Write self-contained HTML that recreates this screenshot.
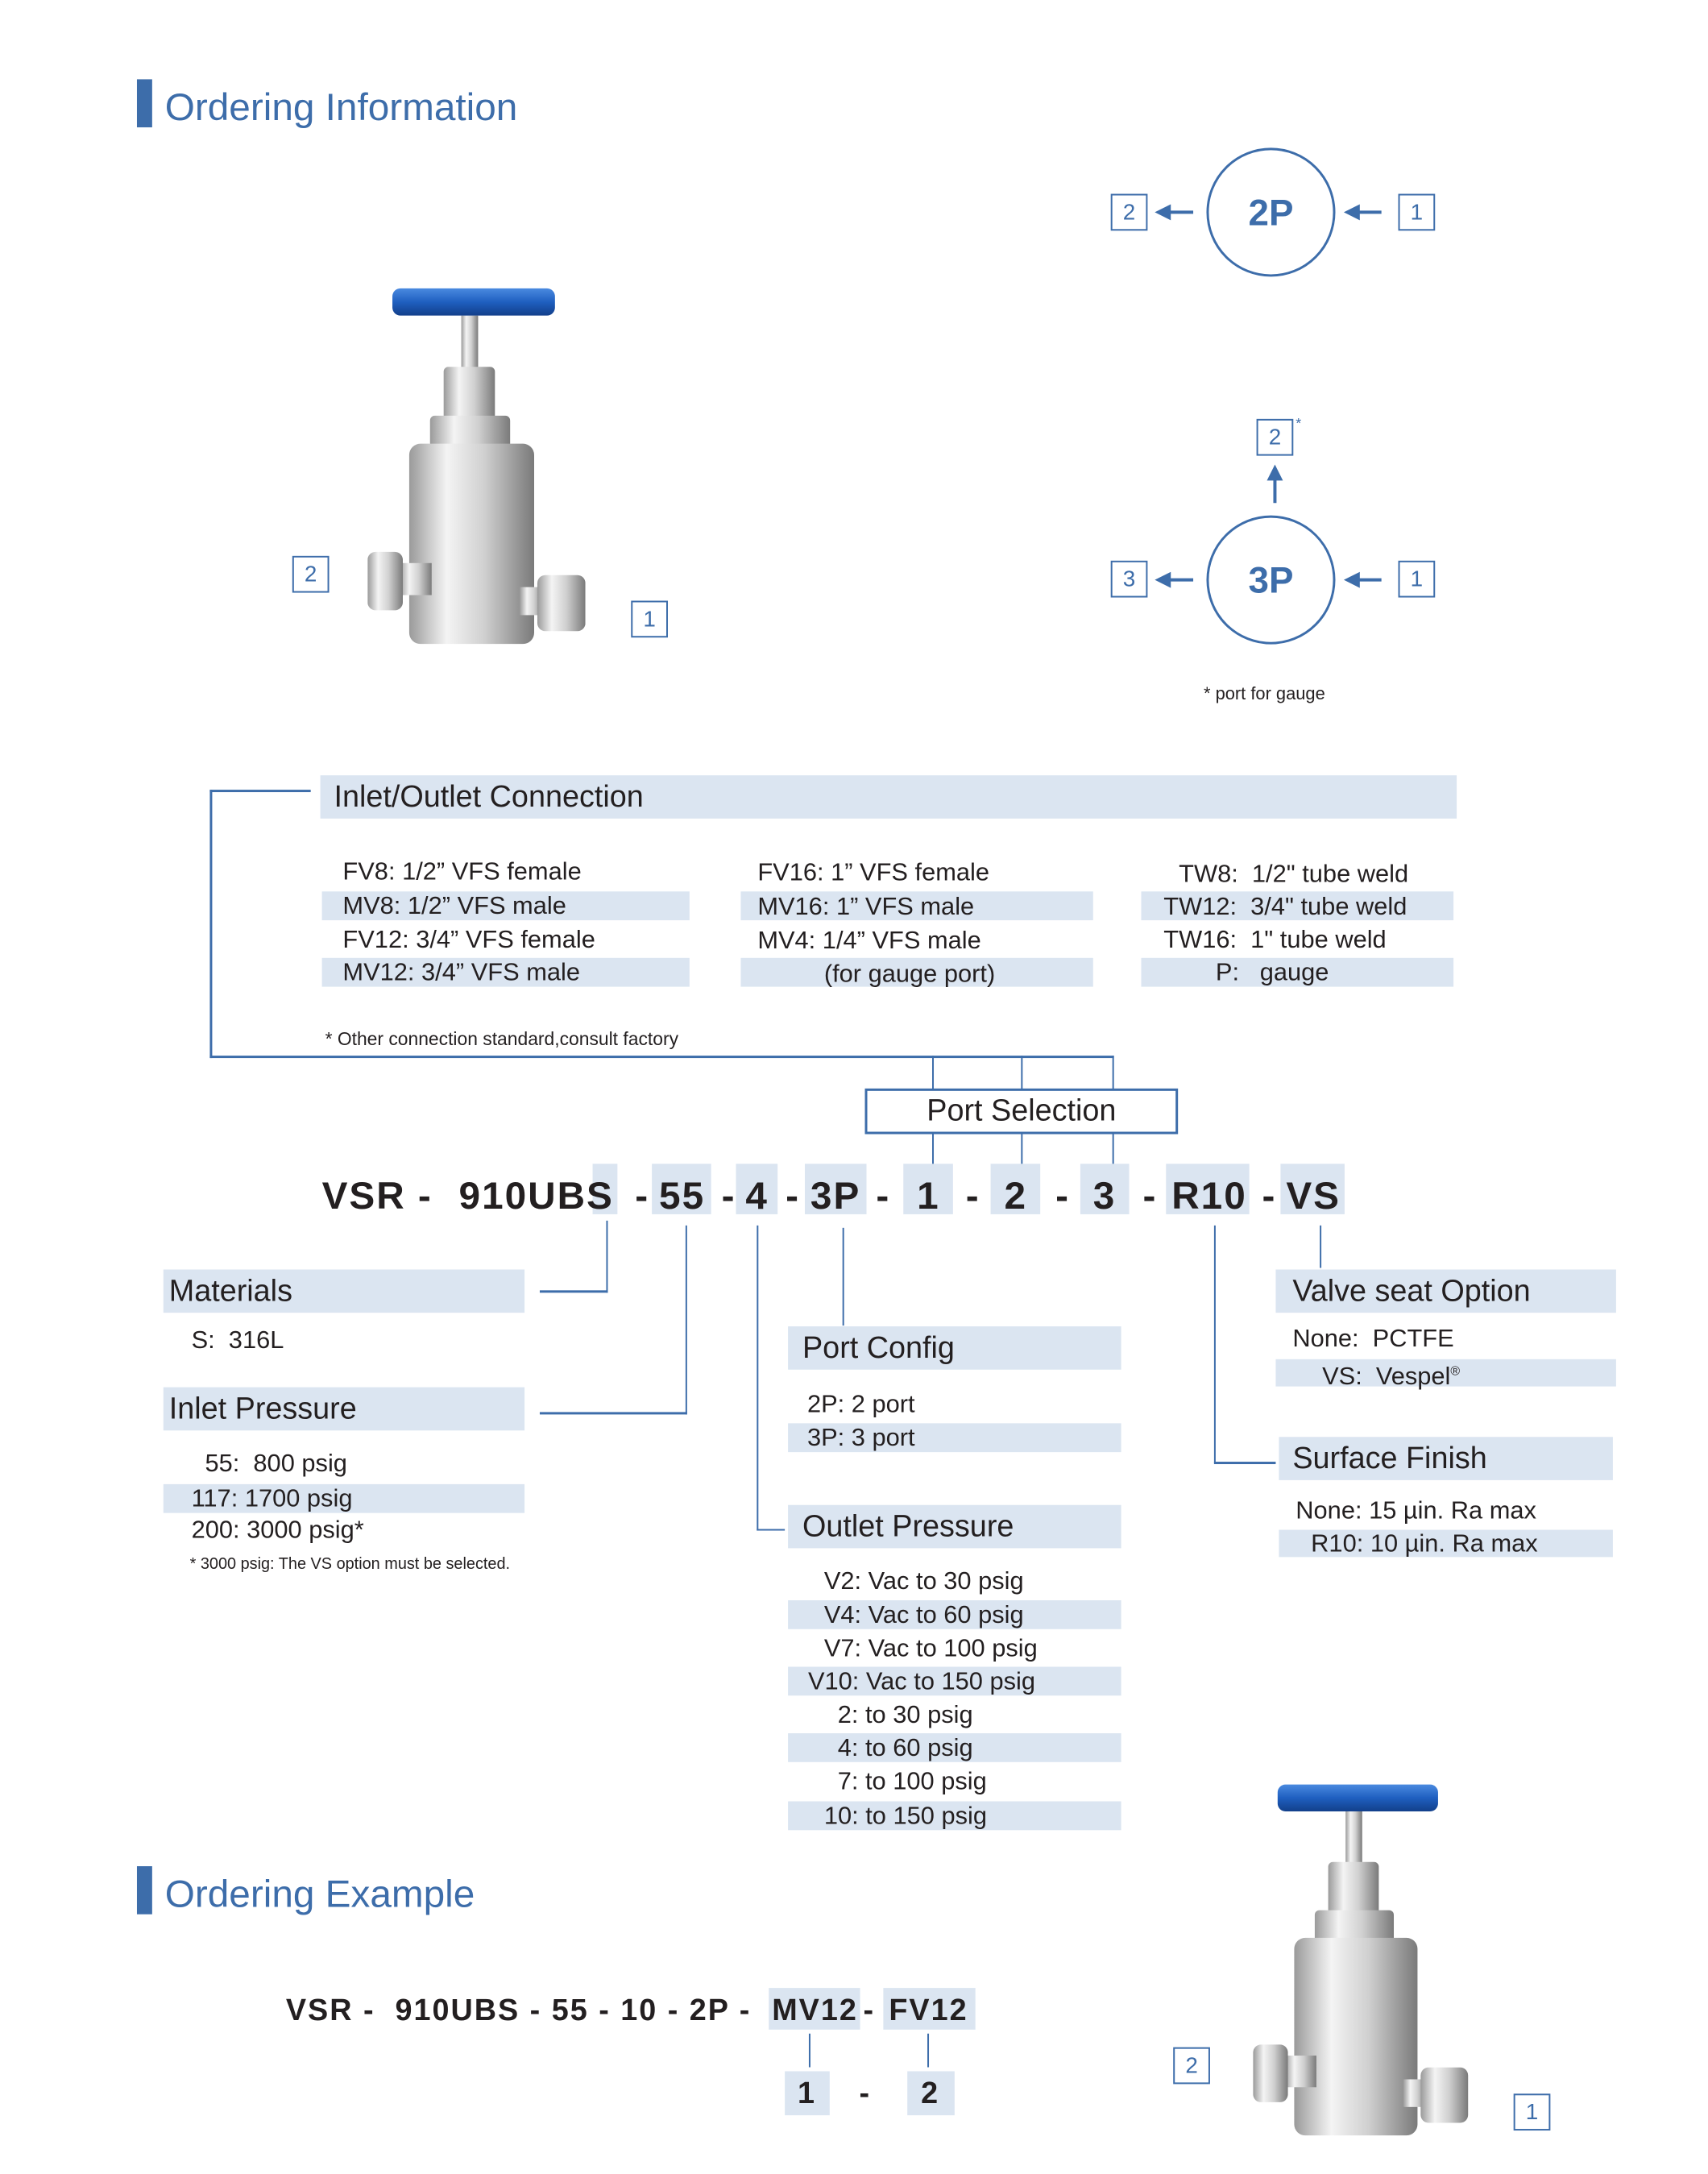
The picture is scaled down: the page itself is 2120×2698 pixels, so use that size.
<!DOCTYPE html>
<html><head><meta charset="utf-8">
<style>
*{margin:0;padding:0;box-sizing:border-box}
html,body{width:2120px;height:2698px;overflow:hidden;background:#fff}
#w{position:absolute;left:0;top:0;width:2120px;height:2698px;transform:scale(0.994);transform-origin:0 0;font-family:"Liberation Sans",Arial,sans-serif;color:#231f20}
.a{position:absolute;white-space:nowrap}
.band{position:absolute;background:#dbe5f1}
.hl{position:absolute;background:#dbe5f1}
.ln{position:absolute;background:#3d6daa}
.t{position:absolute;white-space:nowrap;font-size:31px;line-height:36px}
.h{position:absolute;white-space:nowrap;font-size:38px;line-height:54px}
.box{position:absolute;border:2.5px solid #3d6daa;color:#3d6daa;font-size:28px;text-align:center;line-height:41px;width:46px;height:46px}
.code{position:absolute;font-weight:bold;font-size:48px;line-height:60px;white-space:nowrap;letter-spacing:2px}
.ex{position:absolute;font-weight:bold;font-size:38px;line-height:50px;white-space:nowrap;letter-spacing:2px}
.title{position:absolute;color:#3d6daa;font-size:48px;white-space:nowrap}
</style></head><body><div id="w">

<div class="ln" style="left:171px;top:99px;width:19px;height:60px"></div>
<div class="title" style="left:206px;top:107px">Ordering Information</div>
<div class="ln" style="left:171px;top:2330px;width:19px;height:60px"></div>
<div class="title" style="left:206px;top:2338px">Ordering Example</div>

<svg class="a" style="left:459px;top:358px" width="272" height="456" viewBox="0 0 272 456">
<defs>
<linearGradient id="m" x1="0" x2="1"><stop offset="0" stop-color="#9a9a9a"/><stop offset=".3" stop-color="#f4f4f4"/><stop offset=".6" stop-color="#d0d0d0"/><stop offset="1" stop-color="#7a7a7a"/></linearGradient>
<linearGradient id="b" x1="0" y1="0" x2="0" y2="1"><stop offset="0" stop-color="#4a8ae0"/><stop offset=".5" stop-color="#1f5fc0"/><stop offset="1" stop-color="#123f8a"/></linearGradient>
</defs>
<rect x="117" y="36" width="21" height="70" fill="url(#m)"/>
<rect x="31" y="2" width="203" height="34" rx="10" fill="url(#b)"/>
<rect x="95" y="100" width="64" height="90" rx="6" fill="url(#m)"/>
<rect x="78" y="161" width="100" height="60" rx="6" fill="url(#m)"/>
<rect x="52" y="196" width="156" height="250" rx="14" fill="url(#m)"/>
<rect x="40" y="345" width="40" height="40" fill="url(#m)"/>
<rect x="0" y="331" width="44" height="73" rx="10" fill="url(#m)"/>
<rect x="190" y="375" width="30" height="35" fill="url(#m)"/>
<rect x="212" y="360" width="60" height="70" rx="10" fill="url(#m)"/>
</svg>
<svg class="a" style="left:1562px;top:2226px" width="274" height="450" viewBox="0 0 272 456">
<rect x="117" y="36" width="21" height="70" fill="url(#m)"/>
<rect x="31" y="2" width="203" height="34" rx="10" fill="url(#b)"/>
<rect x="95" y="100" width="64" height="90" rx="6" fill="url(#m)"/>
<rect x="78" y="161" width="100" height="60" rx="6" fill="url(#m)"/>
<rect x="52" y="196" width="156" height="250" rx="14" fill="url(#m)"/>
<rect x="40" y="345" width="40" height="40" fill="url(#m)"/>
<rect x="0" y="331" width="44" height="73" rx="10" fill="url(#m)"/>
<rect x="190" y="375" width="30" height="35" fill="url(#m)"/>
<rect x="212" y="360" width="60" height="70" rx="10" fill="url(#m)"/>
</svg>
<div class="box" style="left:365px;top:694px">2</div>
<div class="box" style="left:788px;top:750px">1</div>
<div class="box" style="left:1465px;top:2556px">2</div>
<div class="box" style="left:1890px;top:2614px">1</div>

<svg class="a" style="left:1380px;top:170px" width="440" height="720">
<g fill="none" stroke="#3d6daa" stroke-width="3">
<circle cx="207" cy="95" r="79"/>
<circle cx="207" cy="554" r="79"/>
</g>
<g stroke="#3d6daa" stroke-width="4">
<line x1="110" y1="95" x2="75" y2="95"/><line x1="345" y1="95" x2="305" y2="95"/>
<line x1="110" y1="554" x2="75" y2="554"/><line x1="345" y1="554" x2="305" y2="554"/>
<line x1="212" y1="458" x2="212" y2="425"/>
</g>
<g fill="#3d6daa">
<polygon points="62,95 82,85 82,105"/><polygon points="298,95 318,85 318,105"/>
<polygon points="62,554 82,544 82,564"/><polygon points="298,554 318,544 318,564"/>
<polygon points="212,410 202,430 222,430"/>
</g>
<text x="207" y="111" text-anchor="middle" font-family="Liberation Sans" font-weight="bold" font-size="46" fill="#3d6daa">2P</text>
<text x="207" y="570" text-anchor="middle" font-family="Liberation Sans" font-weight="bold" font-size="46" fill="#3d6daa">3P</text>
</svg>
<div class="box" style="left:1387px;top:242px">2</div>
<div class="box" style="left:1746px;top:242px">1</div>
<div class="box" style="left:1569px;top:523px">2</div>
<div class="a" style="left:1618px;top:518px;font-size:18px;color:#3d6daa">*</div>
<div class="box" style="left:1387px;top:700px">3</div>
<div class="box" style="left:1746px;top:700px">1</div>
<div class="a" style="left:1503px;top:853px;font-size:22px">* port for gauge</div>

<div class="ln" style="left:262px;top:986px;width:126px;height:3px"></div>
<div class="ln" style="left:262px;top:986px;width:3px;height:335px"></div>
<div class="ln" style="left:262px;top:1318px;width:1129px;height:3px"></div>
<div class="band" style="left:400px;top:968px;width:1419px;height:54px"></div>
<div class="h" style="left:417px;top:968px">Inlet/Outlet Connection</div>
<div class="band" style="left:402px;top:1113px;width:459px;height:36px"></div>
<div class="band" style="left:402px;top:1196px;width:459px;height:36px"></div>
<div class="band" style="left:925px;top:1113px;width:440px;height:36px"></div>
<div class="band" style="left:925px;top:1196px;width:440px;height:36px"></div>
<div class="band" style="left:1425px;top:1113px;width:390px;height:36px"></div>
<div class="band" style="left:1425px;top:1196px;width:390px;height:36px"></div>
<div class="t" style="left:428px;top:1070px">FV8: 1/2” VFS female</div>
<div class="t" style="left:428px;top:1113px">MV8: 1/2” VFS male</div>
<div class="t" style="left:428px;top:1155px">FV12: 3/4” VFS female</div>
<div class="t" style="left:428px;top:1196px">MV12: 3/4” VFS male</div>
<div class="t" style="left:946px;top:1071px">FV16: 1” VFS female</div>
<div class="t" style="left:946px;top:1114px">MV16: 1” VFS male</div>
<div class="t" style="left:946px;top:1156px">MV4: 1/4” VFS male</div>
<div class="t" style="left:1029px;top:1198px">(for gauge port)</div>
<div class="t" style="left:1472px;top:1073px">TW8:&nbsp; 1/2" tube weld</div>
<div class="t" style="left:1453px;top:1114px">TW12:&nbsp; 3/4" tube weld</div>
<div class="t" style="left:1453px;top:1155px">TW16:&nbsp; 1" tube weld</div>
<div class="t" style="left:1518px;top:1196px">P:&nbsp;&nbsp; gauge</div>
<div class="a" style="left:406px;top:1284px;font-size:23px">* Other connection standard,consult factory</div>

<div class="ln" style="left:1164px;top:1318px;width:2px;height:42px"></div>
<div class="ln" style="left:1275px;top:1318px;width:2px;height:42px"></div>
<div class="ln" style="left:1389px;top:1318px;width:2px;height:42px"></div>
<div class="a" style="left:1080px;top:1359px;width:391px;height:57px;border:3px solid #3d6daa;font-size:38px;text-align:center;line-height:50px">Port Selection</div>
<div class="ln" style="left:1164px;top:1416px;width:2px;height:42px"></div>
<div class="ln" style="left:1275px;top:1416px;width:2px;height:42px"></div>
<div class="ln" style="left:1389px;top:1416px;width:2px;height:42px"></div>

<div class="hl" style="left:740px;top:1453px;width:31px;height:63px"></div>
<div class="hl" style="left:814px;top:1453px;width:74px;height:63px"></div>
<div class="hl" style="left:919px;top:1453px;width:52px;height:63px"></div>
<div class="hl" style="left:1005px;top:1453px;width:77px;height:63px"></div>
<div class="hl" style="left:1128px;top:1453px;width:62px;height:63px"></div>
<div class="hl" style="left:1237px;top:1453px;width:62px;height:63px"></div>
<div class="hl" style="left:1349px;top:1453px;width:61px;height:63px"></div>
<div class="hl" style="left:1456px;top:1453px;width:104px;height:63px"></div>
<div class="hl" style="left:1599px;top:1453px;width:80px;height:63px"></div>
<div class="code" style="left:402px;top:1464px">VSR -</div>
<div class="code" style="left:573px;top:1464px">910UBS</div>
<div class="code" style="left:793px;top:1464px">-</div>
<div class="code" style="left:823px;top:1464px">55</div>
<div class="code" style="left:901px;top:1464px">-</div>
<div class="code" style="left:931px;top:1464px">4</div>
<div class="code" style="left:981px;top:1464px">-</div>
<div class="code" style="left:1012px;top:1464px">3P</div>
<div class="code" style="left:1094px;top:1464px">-</div>
<div class="code" style="left:1145px;top:1464px">1</div>
<div class="code" style="left:1206px;top:1464px">-</div>
<div class="code" style="left:1254px;top:1464px">2</div>
<div class="code" style="left:1318px;top:1464px">-</div>
<div class="code" style="left:1365px;top:1464px">3</div>
<div class="code" style="left:1427px;top:1464px">-</div>
<div class="code" style="left:1463px;top:1464px">R10</div>
<div class="code" style="left:1576px;top:1464px">-</div>
<div class="code" style="left:1606px;top:1464px">VS</div>

<div class="ln" style="left:757px;top:1524px;width:2px;height:90px"></div>
<div class="ln" style="left:674px;top:1611px;width:85px;height:3px"></div>
<div class="ln" style="left:856px;top:1530px;width:2px;height:236px"></div>
<div class="ln" style="left:674px;top:1763px;width:184px;height:3px"></div>
<div class="ln" style="left:945px;top:1530px;width:2px;height:381px"></div>
<div class="ln" style="left:945px;top:1909px;width:35px;height:2px"></div>
<div class="ln" style="left:1052px;top:1533px;width:2px;height:122px"></div>
<div class="ln" style="left:1648px;top:1530px;width:2px;height:53px"></div>
<div class="ln" style="left:1516px;top:1530px;width:2px;height:297px"></div>
<div class="ln" style="left:1516px;top:1825px;width:77px;height:3px"></div>

<div class="band" style="left:204px;top:1585px;width:451px;height:54px"></div>
<div class="h" style="left:211px;top:1585px">Materials</div>
<div class="t" style="left:239px;top:1655px">S:&nbsp; 316L</div>

<div class="band" style="left:204px;top:1732px;width:451px;height:54px"></div>
<div class="h" style="left:211px;top:1732px">Inlet Pressure</div>
<div class="band" style="left:204px;top:1853px;width:451px;height:36px"></div>
<div class="t" style="left:256px;top:1809px">55:&nbsp; 800 psig</div>
<div class="t" style="left:239px;top:1853px">117: 1700 psig</div>
<div class="t" style="left:239px;top:1892px">200: 3000 psig*</div>
<div class="a" style="left:237px;top:1942px;font-size:20px">* 3000 psig: The VS option must be selected.</div>

<div class="band" style="left:984px;top:1656px;width:416px;height:54px"></div>
<div class="h" style="left:1002px;top:1656px">Port Config</div>
<div class="band" style="left:984px;top:1777px;width:416px;height:36px"></div>
<div class="t" style="left:1008px;top:1735px">2P: 2 port</div>
<div class="t" style="left:1008px;top:1777px">3P: 3 port</div>

<div class="band" style="left:984px;top:1879px;width:416px;height:54px"></div>
<div class="h" style="left:1002px;top:1879px">Outlet Pressure</div>
<div class="band" style="left:984px;top:1998px;width:416px;height:36px"></div>
<div class="band" style="left:984px;top:2081px;width:416px;height:36px"></div>
<div class="band" style="left:984px;top:2164px;width:416px;height:36px"></div>
<div class="band" style="left:984px;top:2249px;width:416px;height:36px"></div>
<div class="t" style="left:1029px;top:1956px">V2: Vac to 30 psig</div>
<div class="t" style="left:1029px;top:1998px">V4: Vac to 60 psig</div>
<div class="t" style="left:1029px;top:2040px">V7: Vac to 100 psig</div>
<div class="t" style="left:1009px;top:2081px">V10: Vac to 150 psig</div>
<div class="t" style="left:1046px;top:2123px">2: to 30 psig</div>
<div class="t" style="left:1046px;top:2164px">4: to 60 psig</div>
<div class="t" style="left:1046px;top:2206px">7: to 100 psig</div>
<div class="t" style="left:1029px;top:2249px">10: to 150 psig</div>

<div class="band" style="left:1593px;top:1585px;width:425px;height:54px"></div>
<div class="h" style="left:1614px;top:1585px">Valve seat Option</div>
<div class="band" style="left:1593px;top:1697px;width:425px;height:34px"></div>
<div class="t" style="left:1614px;top:1653px">None:&nbsp; PCTFE</div>
<div class="t" style="left:1651px;top:1695px">VS:&nbsp; Vespel<sup style="font-size:16px">®</sup></div>

<div class="band" style="left:1597px;top:1794px;width:417px;height:54px"></div>
<div class="h" style="left:1614px;top:1794px">Surface Finish</div>
<div class="band" style="left:1597px;top:1910px;width:417px;height:34px"></div>
<div class="t" style="left:1618px;top:1868px">None: 15 µin. Ra max</div>
<div class="t" style="left:1637px;top:1909px">R10: 10 µin. Ra max</div>

<div class="hl" style="left:960px;top:2482px;width:114px;height:52px"></div>
<div class="hl" style="left:1103px;top:2482px;width:115px;height:52px"></div>
<div class="ex" style="left:357px;top:2485px">VSR -&nbsp; 910UBS - 55 - 10 - 2P -</div>
<div class="ex" style="left:964px;top:2485px">MV12</div>
<div class="ex" style="left:1078px;top:2485px">-</div>
<div class="ex" style="left:1110px;top:2485px">FV12</div>
<div class="ln" style="left:1010px;top:2539px;width:2px;height:42px"></div>
<div class="ln" style="left:1158px;top:2539px;width:2px;height:42px"></div>
<div class="hl" style="left:980px;top:2586px;width:56px;height:55px"></div>
<div class="hl" style="left:1133px;top:2586px;width:59px;height:55px"></div>
<div class="ex" style="left:996px;top:2589px">1</div>
<div class="ex" style="left:1073px;top:2589px">-</div>
<div class="ex" style="left:1150px;top:2589px">2</div>
</div></body></html>
